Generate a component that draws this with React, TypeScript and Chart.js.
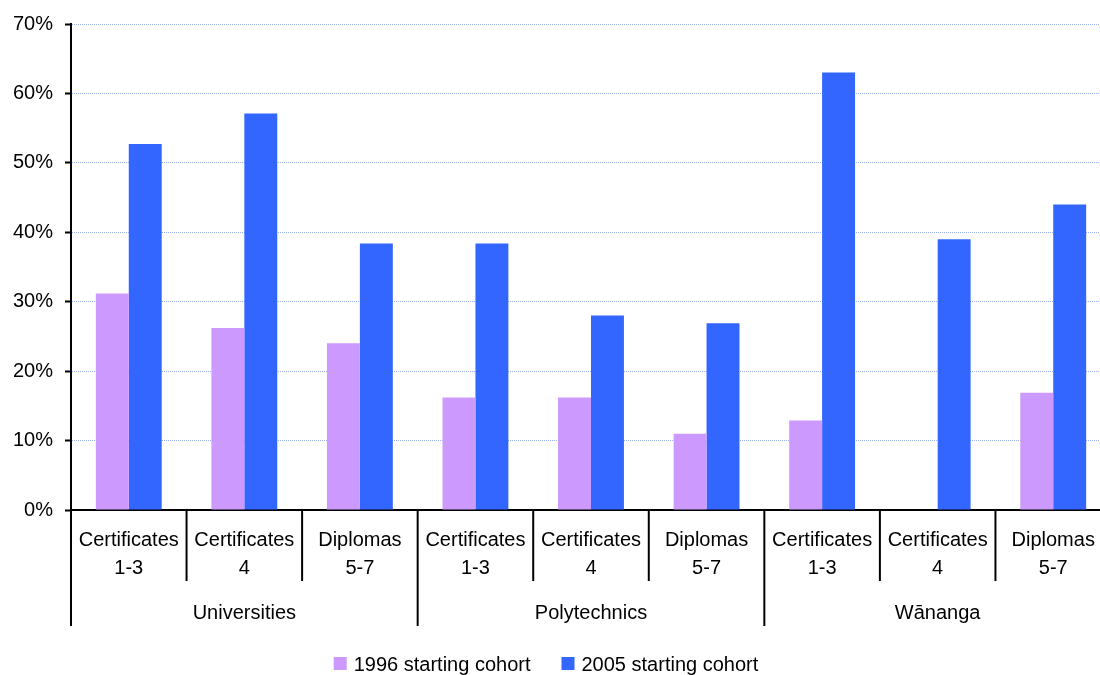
import React, { useEffect, useRef } from "react";
import { Chart, registerables } from "chart.js";

Chart.register(...registerables);

const groups = ["Universities", "Polytechnics", "Wānanga"];
const subLabelTop = ["Certificates", "Certificates", "Diplomas"];
const subLabelBottom = ["1-3", "4", "5-7"];
const categories = [
  "Universities Certificates 1-3",
  "Universities Certificates 4",
  "Universities Diplomas 5-7",
  "Polytechnics Certificates 1-3",
  "Polytechnics Certificates 4",
  "Polytechnics Diplomas 5-7",
  "Wānanga Certificates 1-3",
  "Wānanga Certificates 4",
  "Wānanga Diplomas 5-7",
];
const cohort1996: (number | null)[] = [31.2, 26.2, 24.0, 16.2, 16.2, 11.0, 12.9, null, 16.9];
const cohort2005: number[] = [52.7, 57.1, 38.4, 38.4, 28.0, 26.9, 63.0, 39.0, 44.0];
const seriesNames = ["1996 starting cohort", "2005 starting cohort"];
const seriesColors = ["#CC99FF", "#3366FF"];
const yMax = 70;
const yStep = 10;

const FONT = "'Liberation Sans', Arial, Helvetica, sans-serif";
const FONT_SIZE = 20;

const multiAxisPlugin = {
  id: "multiAxis",
  afterDraw(chart: any) {
    const { ctx, chartArea } = chart;
    const x = chart.scales.x;
    const bottom = chartArea.bottom;
    const n = categories.length;
    const per = n / groups.length;
    const step = x.getPixelForValue(1) - x.getPixelForValue(0);
    const half = step / 2;
    ctx.save();
    ctx.strokeStyle = "#000";
    ctx.lineWidth = 2;
    for (let i = 0; i <= n; i++) {
      const px = i < n ? x.getPixelForValue(i) - half : x.getPixelForValue(n - 1) + half;
      const isGroup = i % per === 0;
      ctx.beginPath();
      ctx.moveTo(px, bottom);
      ctx.lineTo(px, bottom + (isGroup ? 116 : 71));
      ctx.stroke();
    }
    ctx.fillStyle = "#000";
    ctx.font = `${FONT_SIZE}px ${FONT}`;
    ctx.textAlign = "center";
    ctx.textBaseline = "alphabetic";
    for (let i = 0; i < n; i++) {
      const cx = x.getPixelForValue(i);
      const j = i % per;
      ctx.fillText(subLabelTop[j], cx, bottom + 36);
      ctx.fillText(subLabelBottom[j], cx, bottom + 64);
    }
    for (let g = 0; g < groups.length; g++) {
      const a = x.getPixelForValue(g * per) - half;
      const b = x.getPixelForValue(g * per + per - 1) + half;
      ctx.fillText(groups[g], (a + b) / 2, bottom + 109);
    }
    // legend
    const box = 13;
    const gap = 7;
    const spacing = 31;
    ctx.textAlign = "left";
    const widths = seriesNames.map((s) => ctx.measureText(s).width);
    const total = widths.reduce((s, w) => s + box + gap + w, 0) + spacing * (seriesNames.length - 1);
    let lx = 546 - total / 2;
    const ly = bottom + 147;
    chart.data.datasets.forEach((ds: any, i: number) => {
      ctx.fillStyle = ds.backgroundColor;
      ctx.fillRect(lx, ly, box, box);
      ctx.fillStyle = "#000";
      ctx.fillText(ds.label, lx + box + gap, ly + box + 1);
      lx += box + gap + widths[i] + spacing;
    });
    ctx.restore();
  },
};

export default function App() {
  const ref = useRef<HTMLCanvasElement | null>(null);
  useEffect(() => {
    if (!ref.current) return;
    Chart.defaults.font.family = FONT;
    const chart = new Chart(ref.current, {
      type: "bar",
      data: {
        labels: categories,
        datasets: [
          { label: seriesNames[0], data: cohort1996, backgroundColor: seriesColors[0], borderWidth: 0 },
          { label: seriesNames[1], data: cohort2005, backgroundColor: seriesColors[1], borderWidth: 0 },
        ],
      },
      options: {
        animation: false,
        responsive: true,
        maintainAspectRatio: false,
        layout: { padding: { top: 24, right: 9, left: 0, bottom: 0 } },
        datasets: { bar: { categoryPercentage: 0.57, barPercentage: 1.0 } },
        plugins: { legend: { display: false }, tooltip: { enabled: false } },
        scales: {
          x: {
            type: "category",
            grid: { display: false },
            ticks: { display: false },
            border: { display: true, color: "#000", width: 2 },
            afterFit: (s: any) => {
              s.height = 165;
            },
          },
          y: {
            min: 0,
            max: yMax,
            ticks: {
              stepSize: yStep,
              color: "#000",
              padding: 12,
              font: { size: FONT_SIZE, family: FONT },
              callback: (v: any) => `${v}%`,
            },
            grid: {
              color: "#9DB2FF",
              lineWidth: 1,
              tickLength: 6,
              tickColor: "#000",
              tickWidth: 2,
            },
            border: { display: true, color: "#000", width: 2, dash: [1, 1] },
            afterFit: (s: any) => {
              s.width = 71;
            },
          },
        },
      },
      plugins: [multiAxisPlugin],
    });
    return () => chart.destroy();
  }, []);
  return (
    <div
      style={{
        position: "fixed",
        left: 0,
        top: 0,
        width: 1100,
        height: 675,
        overflow: "hidden",
        background: "#fff",
      }}
    >
      <div style={{ position: "relative", width: 1120, height: 675 }}>
        <canvas ref={ref} />
      </div>
    </div>
  );
}
